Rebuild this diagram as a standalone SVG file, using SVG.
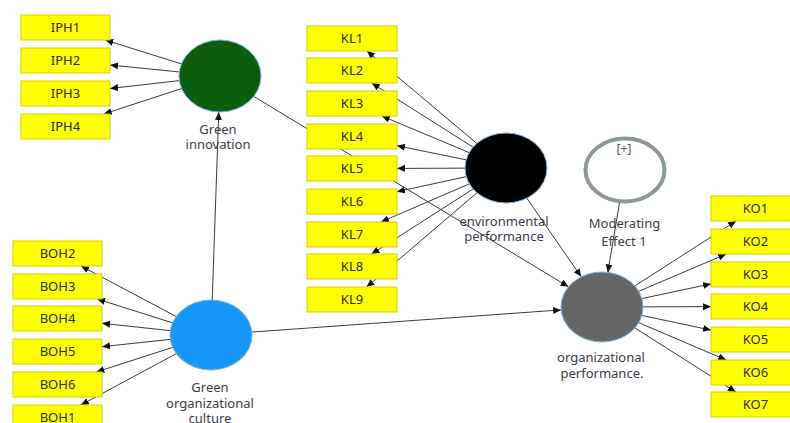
<svg xmlns="http://www.w3.org/2000/svg" width="790" height="423" viewBox="0 0 790 423">
<defs>
<marker id="ah" markerUnits="userSpaceOnUse" markerWidth="9" markerHeight="8" refX="8" refY="3.5" orient="auto"><path d="M0,0 L8,3.5 L0,7 z" fill="#111"/></marker>
<style>
.c line{stroke:#3a3a3a;stroke-width:1;marker-end:url(#ah)}
.b rect{fill:#ffff00;stroke:#d2d200;stroke-width:1}
.b text{font-family:"Noto Sans","Open Sans",sans-serif;font-size:13px;fill:#2a2a2a;text-anchor:middle}
.l text{font-family:"Noto Sans","Open Sans",sans-serif;font-size:13px;fill:#3a3a48;text-anchor:middle}
.lv{stroke:#7fb0dc;stroke-width:1}
</style>
</defs>
<rect width="790" height="423" fill="#fff"/>
<g id="connectors" class="c">
<line x1="220" y1="76" x2="105.3" y2="40"/>
<line x1="220" y1="76" x2="110" y2="65"/>
<line x1="220" y1="76" x2="110" y2="88.5"/>
<line x1="220" y1="76" x2="103.7" y2="114"/>
<line x1="506" y1="168" x2="366.9" y2="51"/>
<line x1="506" y1="168" x2="371.7" y2="83"/>
<line x1="506" y1="168" x2="381.8" y2="116"/>
<line x1="506" y1="168" x2="397" y2="145.7"/>
<line x1="506" y1="168" x2="397" y2="168.4"/>
<line x1="506" y1="168" x2="397" y2="191.7"/>
<line x1="506" y1="168" x2="381" y2="222"/>
<line x1="506" y1="168" x2="371.5" y2="254"/>
<line x1="506" y1="168" x2="366.6" y2="287"/>
<line x1="602" y1="307" x2="736" y2="221"/>
<line x1="602" y1="307" x2="726.2" y2="254"/>
<line x1="602" y1="307" x2="711" y2="283.9"/>
<line x1="602" y1="307" x2="711" y2="306.6"/>
<line x1="602" y1="307" x2="711" y2="330.1"/>
<line x1="602" y1="307" x2="726.2" y2="360"/>
<line x1="602" y1="307" x2="735.8" y2="392"/>
<line x1="211" y1="335" x2="81" y2="266"/>
<line x1="211" y1="335" x2="97.1" y2="299"/>
<line x1="211" y1="335" x2="102" y2="323.3"/>
<line x1="211" y1="335" x2="102" y2="346.7"/>
<line x1="211" y1="335" x2="96.3" y2="372"/>
<line x1="211" y1="335" x2="80.8" y2="405"/>
<line x1="211" y1="335" x2="218.75" y2="112"/>
<line x1="220" y1="76" x2="568.5" y2="286.8"/>
<line x1="506" y1="168" x2="581.2" y2="276.8"/>
<line x1="211" y1="335" x2="561.1" y2="309.9"/>
<line x1="625" y1="170" x2="607.8" y2="272.4"/>
</g>
<g id="green-innovation" class="l"><ellipse class="lv" cx="220" cy="76" rx="41" ry="36" fill="#0b5e0d"/><text x="218" y="133.5">Green</text><text x="218" y="149">innovation</text></g>
<g id="environmental-performance" class="l"><ellipse class="lv" cx="506" cy="168" rx="41" ry="35" fill="#000"/><text x="504" y="225.5">environmental</text><text x="504" y="240.5">performance</text></g>
<g id="moderating-effect" class="l"><ellipse cx="625" cy="170" rx="39.5" ry="31.5" fill="#fff" stroke="#8b9a8b" stroke-width="4"/><text x="624" y="153" style="font-size:12px;fill:#6a4a6a">[+]</text><text x="624.5" y="228">Moderating</text><text x="624" y="245.5">Effect 1</text></g>
<g id="organizational-performance" class="l"><ellipse class="lv" cx="602" cy="307" rx="41" ry="35" fill="#666"/><text x="601" y="362">organizational</text><text x="602" y="377.5">performance.</text></g>
<g id="green-organizational-culture" class="l"><ellipse class="lv" cx="211" cy="335" rx="41" ry="35" fill="#1797fb"/><text x="210" y="392">Green</text><text x="210" y="407.5">organizational</text><text x="210" y="423">culture</text></g>
<g id="IPH1" class="b"><rect x="21" y="15" width="89" height="25"/><text x="65.5" y="32">IPH1</text></g>
<g id="IPH2" class="b"><rect x="21" y="48" width="89" height="25"/><text x="65.5" y="65">IPH2</text></g>
<g id="IPH3" class="b"><rect x="21" y="81" width="89" height="25"/><text x="65.5" y="98">IPH3</text></g>
<g id="IPH4" class="b"><rect x="21" y="114" width="89" height="25"/><text x="65.5" y="131">IPH4</text></g>
<g id="KL1" class="b"><rect x="307" y="26" width="90" height="25"/><text x="352" y="43">KL1</text></g>
<g id="KL2" class="b"><rect x="307" y="58" width="90" height="25"/><text x="352" y="75">KL2</text></g>
<g id="KL3" class="b"><rect x="307" y="91" width="90" height="25"/><text x="352" y="108">KL3</text></g>
<g id="KL4" class="b"><rect x="307" y="124" width="90" height="25"/><text x="352" y="141">KL4</text></g>
<g id="KL5" class="b"><rect x="307" y="156" width="90" height="25"/><text x="352" y="173">KL5</text></g>
<g id="KL6" class="b"><rect x="307" y="189" width="90" height="25"/><text x="352" y="206">KL6</text></g>
<g id="KL7" class="b"><rect x="307" y="222" width="90" height="25"/><text x="352" y="239">KL7</text></g>
<g id="KL8" class="b"><rect x="307" y="254" width="90" height="25"/><text x="352" y="271">KL8</text></g>
<g id="KL9" class="b"><rect x="307" y="287" width="90" height="25"/><text x="352" y="304">KL9</text></g>
<g id="KO1" class="b"><rect x="711" y="196" width="89" height="25"/><text x="755.5" y="213">KO1</text></g>
<g id="KO2" class="b"><rect x="711" y="229" width="89" height="25"/><text x="755.5" y="246">KO2</text></g>
<g id="KO3" class="b"><rect x="711" y="262" width="89" height="25"/><text x="755.5" y="279">KO3</text></g>
<g id="KO4" class="b"><rect x="711" y="294" width="89" height="25"/><text x="755.5" y="311">KO4</text></g>
<g id="KO5" class="b"><rect x="711" y="327" width="89" height="25"/><text x="755.5" y="344">KO5</text></g>
<g id="KO6" class="b"><rect x="711" y="360" width="89" height="25"/><text x="755.5" y="377">KO6</text></g>
<g id="KO7" class="b"><rect x="711" y="392" width="89" height="25"/><text x="755.5" y="409">KO7</text></g>
<g id="BOH2" class="b"><rect x="13" y="241" width="89" height="25"/><text x="57.5" y="258">BOH2</text></g>
<g id="BOH3" class="b"><rect x="13" y="274" width="89" height="25"/><text x="57.5" y="291">BOH3</text></g>
<g id="BOH4" class="b"><rect x="13" y="306" width="89" height="25"/><text x="57.5" y="323">BOH4</text></g>
<g id="BOH5" class="b"><rect x="13" y="339" width="89" height="25"/><text x="57.5" y="356">BOH5</text></g>
<g id="BOH6" class="b"><rect x="13" y="372" width="89" height="25"/><text x="57.5" y="389">BOH6</text></g>
<g id="BOH1" class="b"><rect x="13" y="405" width="89" height="25"/><text x="57.5" y="422">BOH1</text></g>
</svg>
